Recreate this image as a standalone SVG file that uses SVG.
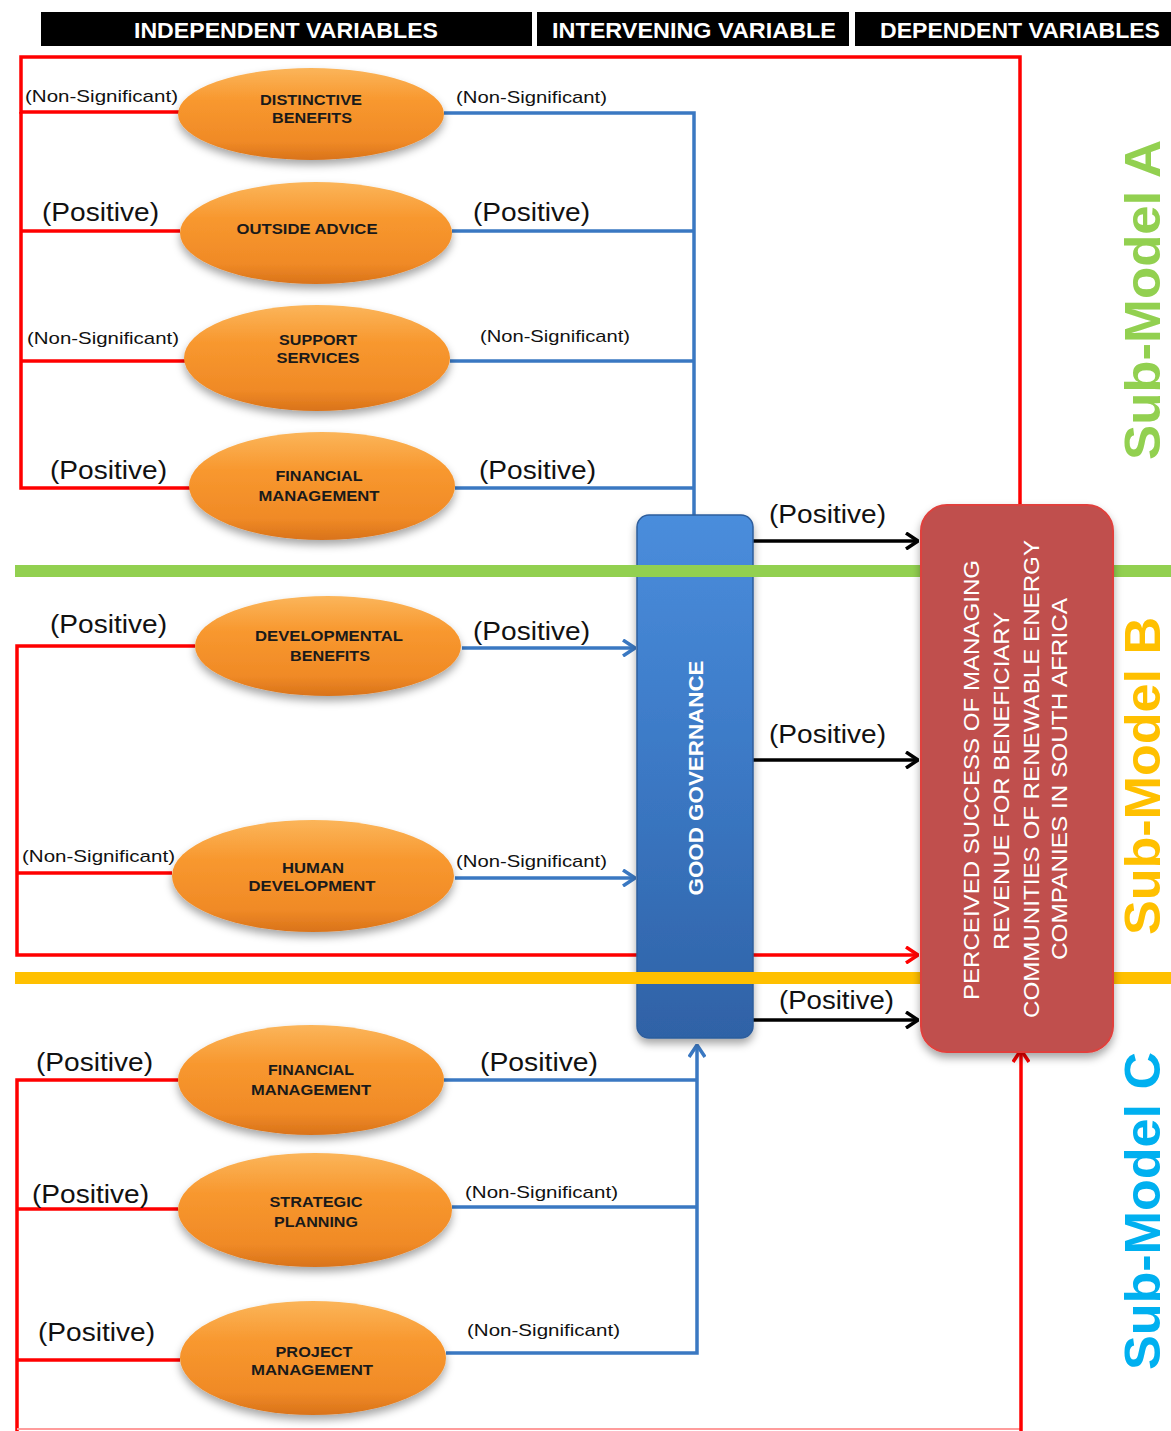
<svg xmlns="http://www.w3.org/2000/svg" width="1171" height="1431" viewBox="0 0 1171 1431">
  <style>
    .hdr { fill: #000; }
    .hdr-t { font-family: "Liberation Sans", Arial, sans-serif; font-weight: bold; font-size: 22px; fill: #fff; text-anchor: middle; }
    .red { stroke: #ff0000; stroke-width: 3.5; fill: none; }
    .blue { stroke: #3a78c2; stroke-width: 3.5; fill: none; }
    .blk { stroke: #000; stroke-width: 3.5; fill: none; }
    .pos { font-family: "Liberation Sans Narrow", "Liberation Sans", Arial, sans-serif; font-size: 25px; fill: #111; }
    .ns { font-family: "Liberation Sans Narrow", "Liberation Sans", Arial, sans-serif; font-size: 17px; fill: #111; }
    .el { fill: url(#orange); filter: url(#shadow); }
    .el-t { font-family: "Liberation Sans", Arial, sans-serif; font-weight: bold; font-size: 14px; fill: #1a1a1a; text-anchor: middle; }
    .band { stroke-width: 12; }
    .sub { font-family: "Liberation Sans", Arial, sans-serif; font-weight: bold; font-size: 50px; text-anchor: middle; }
    .dv { font-family: "Liberation Sans", Arial, sans-serif; font-size: 22px; fill: #fff; text-anchor: middle; }
  </style>
  <defs>
    <linearGradient id="orange" x1="0" y1="0" x2="0" y2="1">
      <stop offset="0" stop-color="#fbb55a"/>
      <stop offset="0.35" stop-color="#f8982f"/>
      <stop offset="0.8" stop-color="#f08a26"/>
      <stop offset="1" stop-color="#d9731a"/>
    </linearGradient>
    <linearGradient id="gg" x1="0" y1="0" x2="0" y2="1">
      <stop offset="0" stop-color="#4a8ddc"/>
      <stop offset="0.5" stop-color="#3b78c4"/>
      <stop offset="1" stop-color="#2f62a6"/>
    </linearGradient>
    <filter id="shadow" x="-20%" y="-20%" width="140%" height="150%">
      <feDropShadow dx="0" dy="5" stdDeviation="4" flood-color="#000" flood-opacity="0.35"/>
    </filter>
    <marker id="ah-blk" viewBox="0 0 14 18" refX="13" refY="9" markerWidth="14" markerHeight="18" markerUnits="userSpaceOnUse" orient="auto">
      <path d="M1,1 L13,9 L1,17" fill="none" stroke="#000" stroke-width="3.5"/>
    </marker>
    <marker id="ah-red" viewBox="0 0 14 18" refX="13" refY="9" markerWidth="14" markerHeight="18" markerUnits="userSpaceOnUse" orient="auto">
      <path d="M1,1 L13,9 L1,17" fill="none" stroke="#ff0000" stroke-width="3.5"/>
    </marker>
    <marker id="ah-blue" viewBox="0 0 14 18" refX="13" refY="9" markerWidth="14" markerHeight="18" markerUnits="userSpaceOnUse" orient="auto">
      <path d="M1,1 L13,9 L1,17" fill="none" stroke="#3a78c2" stroke-width="3.5"/>
    </marker>
  </defs>

  <rect width="1171" height="1431" fill="#fff"/>

  <!-- column headers -->
  <g id="headers">
    <rect class="hdr" x="41" y="12" width="491" height="34"/>
    <rect class="hdr" x="537" y="12" width="312" height="34"/>
    <rect class="hdr" x="855" y="12" width="316" height="34"/>
    <text class="hdr-t" x="286" y="38" textLength="304" lengthAdjust="spacingAndGlyphs">INDEPENDENT VARIABLES</text>
    <text class="hdr-t" x="694" y="38" textLength="284" lengthAdjust="spacingAndGlyphs">INTERVENING VARIABLE</text>
    <text class="hdr-t" x="1020" y="38" textLength="280" lengthAdjust="spacingAndGlyphs">DEPENDENT VARIABLES</text>
  </g>

  <!-- connectors -->
  <g id="connectors">
    <!-- sub-model A: direct paths (red) -->
    <polyline class="red" points="180,112 21,112 21,57 1020,57 1020,505"/>
    <polyline class="red" points="21,112 21,488 190,488"/>
    <line class="red" x1="21" y1="231" x2="180" y2="231"/>
    <line class="red" x1="21" y1="361" x2="185" y2="361"/>
    <!-- sub-model A: paths via good governance (blue) -->
    <polyline class="blue" points="444,113 694,113 694,516"/>
    <line class="blue" x1="452" y1="231" x2="694" y2="231"/>
    <line class="blue" x1="450" y1="361" x2="694" y2="361"/>
    <line class="blue" x1="455" y1="488" x2="694" y2="488"/>

    <!-- sub-model B -->
    <polyline class="red" points="195,646 17,646 17,955 918,955" marker-end="url(#ah-red)"/>
    <line class="red" x1="17" y1="873" x2="172" y2="873"/>
    <line class="blue" x1="462" y1="648" x2="635" y2="648" marker-end="url(#ah-blue)"/>
    <line class="blue" x1="455" y1="878" x2="635" y2="878" marker-end="url(#ah-blue)"/>

    <!-- sub-model C -->
    <polyline class="red" points="178,1080 17,1080 17,1431"/>
    <line class="red" x1="17" y1="1209" x2="178" y2="1209"/>
    <line class="red" x1="17" y1="1360" x2="180" y2="1360"/>
    <line x1="17" y1="1429" x2="1021" y2="1429" stroke="#ff9c9c" stroke-width="2"/>
    <line class="red" x1="1021" y1="1431" x2="1021" y2="1050" marker-end="url(#ah-red)"/>
    <line class="blue" x1="444" y1="1080" x2="697" y2="1080"/>
    <line class="blue" x1="452" y1="1207" x2="697" y2="1207"/>
    <polyline class="blue" points="446,1353 697,1353 697,1045" marker-end="url(#ah-blue)"/>

    <!-- good governance to outcome -->
    <line class="blk" x1="753" y1="541" x2="918" y2="541" marker-end="url(#ah-blk)"/>
    <line class="blk" x1="753" y1="760" x2="918" y2="760" marker-end="url(#ah-blk)"/>
    <line class="blk" x1="753" y1="1020" x2="918" y2="1020" marker-end="url(#ah-blk)"/>
  </g>

  <!-- path labels -->
  <g id="labels">
    <text class="ns" x="25" y="102" textLength="153" lengthAdjust="spacingAndGlyphs">(Non-Significant)</text>
    <text class="ns" x="456" y="103" textLength="151" lengthAdjust="spacingAndGlyphs">(Non-Significant)</text>
    <text class="pos" x="42" y="221" textLength="117" lengthAdjust="spacingAndGlyphs">(Positive)</text>
    <text class="pos" x="473" y="221" textLength="117" lengthAdjust="spacingAndGlyphs">(Positive)</text>
    <text class="ns" x="27" y="344" textLength="152" lengthAdjust="spacingAndGlyphs">(Non-Significant)</text>
    <text class="ns" x="480" y="342" textLength="150" lengthAdjust="spacingAndGlyphs">(Non-Significant)</text>
    <text class="pos" x="50" y="479" textLength="117" lengthAdjust="spacingAndGlyphs">(Positive)</text>
    <text class="pos" x="479" y="479" textLength="117" lengthAdjust="spacingAndGlyphs">(Positive)</text>

    <text class="pos" x="50" y="633" textLength="117" lengthAdjust="spacingAndGlyphs">(Positive)</text>
    <text class="pos" x="473" y="640" textLength="117" lengthAdjust="spacingAndGlyphs">(Positive)</text>
    <text class="ns" x="22" y="862" textLength="153" lengthAdjust="spacingAndGlyphs">(Non-Significant)</text>
    <text class="ns" x="456" y="867" textLength="151" lengthAdjust="spacingAndGlyphs">(Non-Significant)</text>

    <text class="pos" x="36" y="1071" textLength="117" lengthAdjust="spacingAndGlyphs">(Positive)</text>
    <text class="pos" x="480" y="1071" textLength="118" lengthAdjust="spacingAndGlyphs">(Positive)</text>
    <text class="pos" x="32" y="1203" textLength="117" lengthAdjust="spacingAndGlyphs">(Positive)</text>
    <text class="ns" x="465" y="1198" textLength="153" lengthAdjust="spacingAndGlyphs">(Non-Significant)</text>
    <text class="pos" x="38" y="1341" textLength="117" lengthAdjust="spacingAndGlyphs">(Positive)</text>
    <text class="ns" x="467" y="1336" textLength="153" lengthAdjust="spacingAndGlyphs">(Non-Significant)</text>

    <text class="pos" x="769" y="523" textLength="117" lengthAdjust="spacingAndGlyphs">(Positive)</text>
    <text class="pos" x="769" y="743" textLength="117" lengthAdjust="spacingAndGlyphs">(Positive)</text>
    <text class="pos" x="779" y="1009" textLength="115" lengthAdjust="spacingAndGlyphs">(Positive)</text>
  </g>

  <!-- independent variables -->
  <g id="distinctive-benefits">
    <ellipse class="el" cx="311" cy="114" rx="133" ry="46"/>
    <text class="el-t" x="311" y="105" textLength="102" lengthAdjust="spacingAndGlyphs">DISTINCTIVE</text>
    <text class="el-t" x="312" y="123" textLength="80" lengthAdjust="spacingAndGlyphs">BENEFITS</text>
  </g>
  <g id="outside-advice">
    <ellipse class="el" cx="316" cy="233" rx="136" ry="51"/>
    <text class="el-t" x="307" y="234" textLength="141" lengthAdjust="spacingAndGlyphs">OUTSIDE ADVICE</text>
  </g>
  <g id="support-services">
    <ellipse class="el" cx="317" cy="358" rx="133" ry="53"/>
    <text class="el-t" x="318" y="345" textLength="78" lengthAdjust="spacingAndGlyphs">SUPPORT</text>
    <text class="el-t" x="318" y="363" textLength="83" lengthAdjust="spacingAndGlyphs">SERVICES</text>
  </g>
  <g id="financial-management-a">
    <ellipse class="el" cx="322" cy="486" rx="133" ry="54"/>
    <text class="el-t" x="319" y="481" textLength="87" lengthAdjust="spacingAndGlyphs">FINANCIAL</text>
    <text class="el-t" x="319" y="501" textLength="121" lengthAdjust="spacingAndGlyphs">MANAGEMENT</text>
  </g>
  <g id="developmental-benefits">
    <ellipse class="el" cx="328" cy="646" rx="133" ry="50"/>
    <text class="el-t" x="329" y="641" textLength="148" lengthAdjust="spacingAndGlyphs">DEVELOPMENTAL</text>
    <text class="el-t" x="330" y="661" textLength="80" lengthAdjust="spacingAndGlyphs">BENEFITS</text>
  </g>
  <g id="human-development">
    <ellipse class="el" cx="313" cy="876" rx="141" ry="56"/>
    <text class="el-t" x="313" y="873" textLength="62" lengthAdjust="spacingAndGlyphs">HUMAN</text>
    <text class="el-t" x="312" y="891" textLength="127" lengthAdjust="spacingAndGlyphs">DEVELOPMENT</text>
  </g>
  <g id="financial-management-c">
    <ellipse class="el" cx="311" cy="1080" rx="133" ry="55"/>
    <text class="el-t" x="311" y="1075" textLength="86" lengthAdjust="spacingAndGlyphs">FINANCIAL</text>
    <text class="el-t" x="311" y="1095" textLength="120" lengthAdjust="spacingAndGlyphs">MANAGEMENT</text>
  </g>
  <g id="strategic-planning">
    <ellipse class="el" cx="315" cy="1210" rx="137" ry="57"/>
    <text class="el-t" x="316" y="1207" textLength="93" lengthAdjust="spacingAndGlyphs">STRATEGIC</text>
    <text class="el-t" x="316" y="1227" textLength="84" lengthAdjust="spacingAndGlyphs">PLANNING</text>
  </g>
  <g id="project-management">
    <ellipse class="el" cx="313" cy="1358" rx="133" ry="57"/>
    <text class="el-t" x="314" y="1357" textLength="77" lengthAdjust="spacingAndGlyphs">PROJECT</text>
    <text class="el-t" x="312" y="1375" textLength="122" lengthAdjust="spacingAndGlyphs">MANAGEMENT</text>
  </g>

  <!-- intervening variable -->
  <g id="good-governance">
    <rect x="637" y="515" width="116" height="523" rx="12" fill="url(#gg)" stroke="#2d5d9c" stroke-width="1.5" filter="url(#shadow)"/>
    <text x="703" y="778" transform="rotate(-90 703 778)" font-family="Liberation Sans, Arial, sans-serif" font-weight="bold" font-size="20" fill="#fff" text-anchor="middle" textLength="235" lengthAdjust="spacingAndGlyphs">GOOD GOVERNANCE</text>
  </g>

  <!-- sub-model boundaries -->
  <g id="bands">
    <line class="band" x1="15" y1="571" x2="1171" y2="571" stroke="#92d050"/>
    <line class="band" x1="15" y1="978" x2="1171" y2="978" stroke="#ffc000"/>
  </g>

  <!-- dependent variable -->
  <g id="perceived-success">
    <rect x="921" y="505" width="192" height="547" rx="26" fill="#c0504d" stroke="#e0403c" stroke-width="2" filter="url(#shadow)"/>
    <text class="dv" x="979" y="780" transform="rotate(-90 979 780)" textLength="440" lengthAdjust="spacingAndGlyphs">PERCEIVED SUCCESS OF MANAGING</text>
    <text class="dv" x="1009" y="781" transform="rotate(-90 1009 781)" textLength="338" lengthAdjust="spacingAndGlyphs">REVENUE FOR BENEFICIARY</text>
    <text class="dv" x="1039" y="779" transform="rotate(-90 1039 779)" textLength="478" lengthAdjust="spacingAndGlyphs">COMMUNITIES OF RENEWABLE ENERGY</text>
    <text class="dv" x="1067" y="779" transform="rotate(-90 1067 779)" textLength="362" lengthAdjust="spacingAndGlyphs">COMPANIES IN SOUTH AFRICA</text>
  </g>

  <!-- sub-model titles -->
  <g id="submodel-labels">
    <text class="sub" x="1160" y="300" transform="rotate(-90 1160 300)" fill="#92d050" textLength="320" lengthAdjust="spacingAndGlyphs">Sub-Model A</text>
    <text class="sub" x="1160" y="776" transform="rotate(-90 1160 776)" fill="#ffc000" textLength="318" lengthAdjust="spacingAndGlyphs">Sub-Model B</text>
    <text class="sub" x="1160" y="1211" transform="rotate(-90 1160 1211)" fill="#00b0f0" textLength="318" lengthAdjust="spacingAndGlyphs">Sub-Model C</text>
  </g>
</svg>
